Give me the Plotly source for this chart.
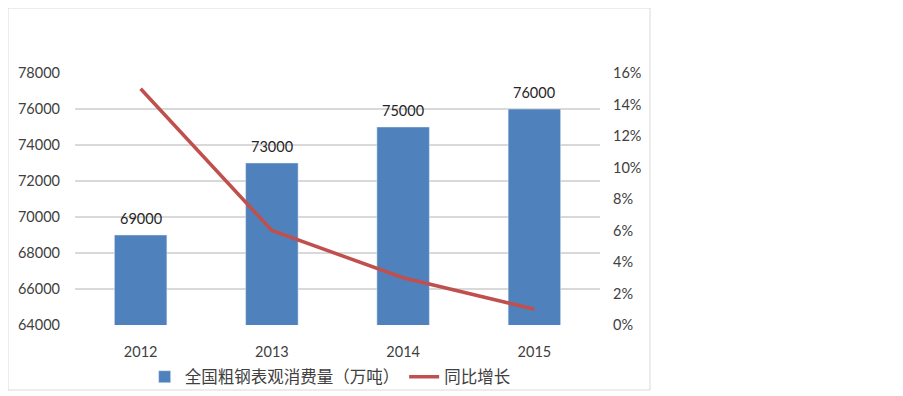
import plotly.graph_objects as go

years = ["2012", "2013", "2014", "2015"]
consumption = [69000, 73000, 75000, 76000]
growth = [15, 6, 3, 1]
left_ticks = [64000, 66000, 68000, 70000, 72000, 74000, 76000, 78000]
right_ticks = [0, 2, 4, 6, 8, 10, 12, 14, 16]

FONT = "Lato, Noto Sans CJK SC, sans-serif"
OFF = 8  # page body margin
W, H = 887, 388
ml, mr = 75 - OFF, W - (600 - OFF)
mt, mb = 73 - OFF, H - (325 - OFF)
pw, ph = W - ml - mr, H - mt - mb

fig = go.Figure()
fig.add_trace(go.Bar(
    x=years, y=consumption, name="全国粗钢表观消费量（万吨）",
    marker=dict(color="#4F81BD"), yaxis="y",
))
fig.add_trace(go.Scatter(
    x=years, y=growth, name="同比增长", mode="lines",
    line=dict(color="#C0504D", width=3.5), yaxis="y2",
))

# category axis: annotations positioned by category index
annotations = [
    dict(x=i, y=v, xref="x", yref="y", text=str(v), showarrow=False,
         yshift=17, font=dict(size=14.5, color="#262626", family=FONT))
    for i, v in enumerate(consumption)
]

fig.update_layout(
    width=W, height=H,
    margin=dict(l=ml, r=mr, t=mt, b=mb, autoexpand=False),
    paper_bgcolor="white", plot_bgcolor="white",
    font=dict(family=FONT, size=14.5, color="#404040"),
    bargap=0.6,
    annotations=annotations,
    xaxis=dict(type="category", range=[-0.5, len(years) - 0.5], showgrid=False,
               showline=False, ticks="", ticklabelstandoff=16,
               automargin=False, tickfont=dict(size=14.5, color="#404040")),
    yaxis=dict(range=[64000, 78000], tickvals=left_ticks,
               ticktext=[str(v) for v in left_ticks], showgrid=True,
               gridcolor="#D9D9D9", gridwidth=1.5, zeroline=False, showline=False,
               automargin=False, ticklabelstandoff=14, tickfont=dict(size=14.5, color="#404040")),
    yaxis2=dict(range=[0, 16], tickvals=right_ticks,
                ticktext=[f"{v}%" for v in right_ticks], overlaying="y", side="right",
                showgrid=False, zeroline=False, showline=False, ticklabelstandoff=12,
                automargin=False, tickfont=dict(size=14.5, color="#404040")),
    legend=dict(orientation="h", x=0.486, xanchor="center", y=-52 / ph, yanchor="middle",
                font=dict(size=16.5, color="#404040"), bgcolor="rgba(0,0,0,0)"),
    showlegend=True,
    shapes=[dict(type="rect", xref="paper", yref="paper",
                 x0=(8 - 75) / pw, x1=(650 - 75) / pw,
                 y0=(325 - 390) / ph, y1=(325 - 8) / ph,
                 line=dict(color="#D9D9D9", width=1), fillcolor="rgba(0,0,0,0)", layer="below")],
)

fig.write_html("out.html")
